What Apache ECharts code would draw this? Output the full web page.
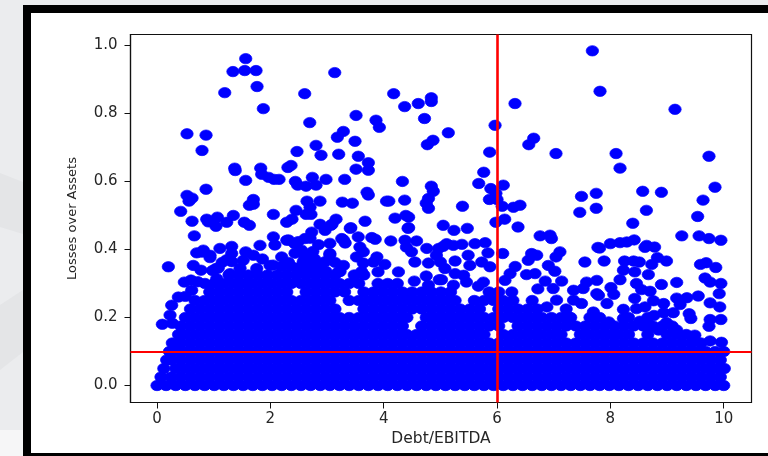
<!DOCTYPE html>
<html>
<head>
<meta charset="utf-8">
<style>html,body{margin:0;padding:0;background:#ebecee}#c{width:768px;height:456px}</style>
<script src="https://cdn.jsdelivr.net/npm/echarts@6/dist/echarts.min.js"></script>
</head>
<body>
<div id="c"></div>
<script>
const xTickValues = [0, 2, 4, 6, 8, 10];
const yTickValues = [0, 0.2, 0.4, 0.6, 0.8, 1.0];
const xAxisName = 'Debt/EBITDA';
const yAxisName = 'Losses over Assets';
const xThreshold = 6;
const yThreshold = 0.1;

// individually readable points above the dense band: [Debt/EBITDA, Losses over Assets]
const upperPointsLeft = [
[1.565,.961],[1.34,.923],[1.548,.926],[1.747,.926],[1.765,.879],[1.195,.861],[1.876,.814],[2.606,.858],[3.136,.92],[2.695,.773],
[.529,.74],[.865,.736],[.794,.691],[1.371,.639],[1.38,.632],[1.565,.603],[1.83,.639],[1.847,.621],[1.97,.612],[2.065,.606],[2.153,.606],
[2.31,.641],[2.365,.647],[2.47,.688],[2.806,.706],[2.894,.677],[3.206,.68],[3.182,.73],[3.288,.747],[3.512,.794],[3.864,.78],[3.923,.759],
[3.494,.718],[3.552,.674],[3.729,.655],[3.729,.633],[3.512,.636],[3.312,.606],[2.982,.606],[2.741,.612],[2.441,.6],[2.482,.589],[2.63,.586],
[2.806,.589],[.865,.577],[.529,.559],[.618,.551],[.565,.542],[1.7,.547],[1.7,.533],[1.63,.53],[2.647,.542],[2.876,.542],[3.27,.539],[3.447,.536],
[3.706,.568],[3.729,.56],[.418,.512],[2.453,.515],[2.7,.524],[2.63,.503],[2.717,.503],[2.053,.503],[1.347,.5],[.618,.483],[.877,.489],[1.065,.495],
[.906,.481],[1.23,.48],[1.54,.48],[1.63,.471],[2.288,.48],[2.382,.489],[2.876,.474],[3.159,.489],[3.088,.474],[3.671,.483],[3.41,.462],
[.658,.44],[.2,.349],[.64,.353],[.776,.339],[.482,.304],[.376,.26],[.259,.236],[.817,.398],[.7,.39],[.935,.383],[1.11,.403],[1.318,.409],[1.318,.388],
[1.565,.393],[1.7,.383],[1.817,.412],[2.053,.437],[1.04,.468],[1.23,.37],[1.04,.344],[1.465,.345],[1.76,.344],[1.994,.353],[.612,.28],[.847,.3],
[1.053,.314],[1.288,.329],[.094,.18],[.27,.183],[.23,.207],[.79,.392],[.935,.376],[2.08,.413],[2.32,.428],[2.49,.423],[2.7,.433],[3.05,.418],
[3.29,.428],[3.85,.43],[2.75,.394],[3.05,.384],[2.965,.364],[2.435,.389],[2.58,.364],[1.08,.345],[1.32,.364],[2.05,.354],[2.64,.33],[3.23,.335],[3.61,.335],
[1.52,.368],[1.86,.372],[2.2,.378],[2.32,.362],[2.78,.372],[3.14,.362],[1.15,.362],[.98,.338],[.72,.305],[.6,.31],[.5,.262]
];
const upperPointsMiddle = [
[4.05,.542],[7.682,.984],[7.817,.865],[9.14,.812],[6.317,.829],[4.176,.858],[4.37,.82],[4.61,.829],[4.84,.846],[4.84,.835],[4.72,.785],[5.965,.765],
[5.14,.743],[4.87,.721],[4.77,.708],[6.647,.727],[6.56,.708],[7.04,.682],[8.1,.682],[8.17,.639],[9.74,.674],[5.87,.686],[5.765,.627],[5.677,.594],
[6.11,.589],[5.89,.579],[4.84,.586],[4.875,.571],[4.33,.6],[4.09,.542],[4.37,.545],[4.79,.55],[4.75,.536],[4.79,.521],[5.39,.527],[5.865,.547],[6,.547],
[5.98,.565],[6.09,.527],[6.29,.524],[6.405,.53],[6.135,.489],[5.98,.48],[6.37,.466],[7.46,.509],[7.49,.556],[7.75,.565],[7.75,.521],[8.57,.571],[8.9,.568],
[8.635,.515],[9.635,.545],[9.846,.583],[9.54,.497],[8.395,.477],[4.2,.492],[4.39,.5],[4.44,.495],[4.43,.462],[5.05,.471],[5.24,.456],[5.475,.462],
[3.42,.464],[3.07,.471],[2.965,.456],[2.73,.451],[2.61,.432],[4.44,.464],[4.125,.425],[4.376,.427],[4.58,.425],[4.76,.403],[4.97,.403],[4.4,.407],[4.49,.393],
[4.55,.363],[4.79,.36],[5,.363],[4.93,.383],[3.79,.435],[3.55,.437],[3.26,.432],[3.32,.419],[3.58,.407],[2.85,.414],[3.05,.388],[3.64,.393],[3.52,.378],
[3.88,.378],[3.82,.363],[4.02,.356],[3.64,.36],[3.29,.353],[3.2,.334],[2.98,.336],[4.26,.334],[3.9,.334],[4.54,.307],[4.75,.322],[4.98,.311],[4.79,.295],[4.46,.265],
[2.55,.398],[2.43,.417],[2.29,.427],[2.61,.378]
];
const upperPointsRight = [
[6.76,.44],[6.935,.442],[6.96,.432],[7.78,.406],[7.55,.363],[7.11,.393],[7.04,.378],[6.61,.388],[6.55,.368],[6.7,.383],[5.11,.417],[5.05,.409],[5.38,.415],
[5.23,.412],[5.61,.417],[5.79,.42],[5.84,.39],[6.1,.388],[5.49,.383],[5.52,.353],[5.26,.366],[5.73,.363],[5.875,.349],[6.32,.35],[6.23,.329],[6.14,.309],
[6.52,.326],[6.67,.329],[6.905,.353],[7.02,.336],[6.85,.307],[7.14,.307],[6.99,.285],[7.05,.251],[6.72,.284],[5.76,.304],[5.67,.292],[5.02,.311],[5.26,.329],
[5.41,.324],[5.46,.304],[5.23,.295],[5.08,.344],[7.35,.28],[7.58,.304],[7.76,.309],[7.52,.285],[7.35,.251],[7.76,.27],[7.49,.241],[6.26,.275],[6.88,.231],[7.26,.202],[7.7,.216],
[9.26,.44],[9.565,.44],[9.74,.432],[9.95,.427],[7.81,.404],[8,.417],[8.17,.42],[8.29,.422],[8.42,.428],[8.64,.412],[8.61,.406],[8.78,.407],[7.89,.366],[8.25,.366],
[8.41,.366],[8.51,.363],[8.83,.376],[8.99,.366],[8.73,.356],[9.59,.356],[9.69,.361],[9.86,.347],[8.23,.339],[8.43,.334],[8.67,.326],[8.17,.311],[8.46,.3],[8.9,.297],
[9.17,.303],[9.67,.316],[9.76,.304],[9.95,.3],[9.92,.27],[8.01,.288],[8.55,.282],[8.7,.277],[8.06,.268],[7.79,.265],[8.43,.256],[7.94,.241],[8.76,.249],[8.94,.241],
[9.17,.257],[9.35,.258],[9.55,.263],[9.76,.243],[9.93,.231],[9.23,.238],[8.46,.226],[8.61,.231],[8.23,.224],[8.94,.214],[9.11,.214],[8.77,.206],[9.39,.211],[9.42,.197],
[9.76,.194],[9.95,.194],[9.74,.174],[8.99,.185],[8.52,.189],[7.97,.187],[8.23,.197],[8.85,.163],[9.17,.163],[9.76,.131],[9.96,.127],[9.49,.148],[8.67,.172]
];

// the dense band near the axis: estimated x values for each y level
const bandLevels = [0, .025, .05, .075, .1, .125, .15, .175, .2, .225, .25, .275, .3, .325, .35];
const bandRow0 = [0,.16,.33,.5,.67,.84,1.01,1.18,1.35,1.52,1.69,1.86,2.03,2.2,2.37,2.54,2.71,2.88,3.05,3.22,3.39,3.56,3.73,3.9,4.07,4.24,4.41,4.58,4.75,4.92,5.09,5.26,5.43,5.6,5.77,5.94,6.11,6.28,6.45,6.62,6.79,6.96,7.13,7.3,7.47,7.64,7.81,7.98,8.15,8.32,8.49,8.66,8.83,9,9.17,9.34,9.51,9.68,9.85,10];
const bandRow1 = [.07,.25,.42,.59,.76,.93,1.1,1.27,1.44,1.61,1.78,1.95,2.12,2.29,2.46,2.63,2.8,2.97,3.14,3.31,3.48,3.65,3.82,3.99,4.16,4.33,4.5,4.67,4.84,5.01,5.18,5.35,5.52,5.69,5.86,6.03,6.2,6.37,6.54,6.71,6.88,7.05,7.22,7.39,7.56,7.73,7.9,8.07,8.24,8.41,8.58,8.75,8.92,9.09,9.26,9.43,9.6,9.77,9.94];
const bandRow2 = [.12,.33,.5,.67,.84,1.01,1.18,1.35,1.52,1.69,1.86,2.03,2.2,2.37,2.54,2.71,2.88,3.05,3.22,3.39,3.56,3.73,3.9,4.07,4.24,4.41,4.58,4.75,4.92,5.09,5.26,5.43,5.6,5.77,5.94,6.11,6.28,6.45,6.62,6.79,6.96,7.13,7.3,7.47,7.64,7.81,7.98,8.15,8.32,8.49,8.66,8.83,9,9.17,9.34,9.51,9.68,9.85,10.01];
const bandRow3 = [.17,.25,.42,.59,.76,.93,1.1,1.27,1.44,1.61,1.78,1.95,2.12,2.29,2.46,2.63,2.8,2.97,3.14,3.31,3.48,3.65,3.82,3.99,4.16,4.33,4.5,4.67,4.84,5.01,5.18,5.35,5.52,5.69,5.86,6.03,6.2,6.37,6.54,6.71,6.88,7.05,7.22,7.39,7.56,7.73,7.9,8.07,8.24,8.41,8.58,8.75,8.92,9.09,9.26,9.43,9.6,9.77,9.94];
const bandRow4 = [.22,.33,.5,.67,.84,1.01,1.18,1.35,1.52,1.69,1.86,2.03,2.2,2.37,2.54,2.71,2.88,3.05,3.22,3.39,3.56,3.73,3.9,4.07,4.24,4.41,4.58,4.75,4.92,5.09,5.26,5.43,5.6,5.77,5.94,6.11,6.28,6.45,6.62,6.79,6.96,7.13,7.3,7.47,7.64,7.81,7.98,8.15,8.32,8.49,8.66,8.83,9,9.17,9.34,9.51,9.68,9.85,10];
const bandRow5 = [.27,.42,.59,.76,.93,1.1,1.27,1.44,1.61,1.78,1.95,2.12,2.29,2.46,2.63,2.8,2.97,3.14,3.31,3.48,3.65,3.82,3.99,4.16,4.33,4.5,4.67,4.84,5.01,5.18,5.35,5.52,5.69,5.86,6.03,6.2,6.37,6.54,6.71,6.88,7.05,7.22,7.39,7.56,7.73,7.9,8.07,8.24,8.41,8.58,8.75,8.92,9.09,9.26,9.43,9.6];
const bandRow6 = [.38,.5,.67,.84,1.01,1.18,1.35,1.52,1.69,1.86,2.03,2.2,2.37,2.54,2.71,2.88,3.05,3.22,3.39,3.56,3.73,3.9,4.07,4.24,4.41,4.58,4.75,4.92,5.09,5.26,5.43,5.6,5.77,6.11,6.28,6.45,6.62,6.79,6.96,7.13,7.47,7.64,7.81,7.98,8.15,8.32,8.66,9,9.17,9.34];
const bandRow7 = [.42,.59,.76,.93,1.1,1.27,1.44,1.61,1.78,1.95,2.12,2.29,2.46,2.63,2.8,2.97,3.14,3.31,3.48,3.65,3.82,3.99,4.16,4.33,4.67,4.84,5.01,5.18,5.35,5.52,5.69,5.86,6.03,6.37,6.54,6.71,6.88,7.05,7.22,7.39,7.56,7.73,7.9,8.07,8.24,8.41,8.58,8.75,8.92,9.09];
const bandRow8 = [.5,.67,.84,1.01,1.18,1.35,1.52,1.69,1.86,2.03,2.2,2.37,2.54,2.71,2.88,3.05,3.22,3.39,3.56,3.73,3.9,4.07,4.24,4.41,4.75,4.92,5.09,5.26,5.43,5.6,5.77,5.94,6.11,6.28,6.45,6.62,6.79,6.96,7.13,7.3,7.64,7.81,8.32,8.66];
const bandRow9 = [.59,.76,.93,1.1,1.27,1.44,1.61,1.78,1.95,2.12,2.29,2.46,2.63,2.8,2.97,3.14,3.65,3.82,3.99,4.16,4.33,4.5,4.67,4.84,5.01,5.18,5.35,5.52,5.69,6.03,6.2,6.37,6.54,6.71,7.22];
const bandRow10 = [.67,.84,1.01,1.18,1.35,1.52,1.69,1.86,2.03,2.2,2.37,2.54,2.71,2.88,3.05,3.39,3.56,3.73,3.9,4.07,4.24,4.41,4.58,4.75,4.92,5.09,5.26,5.6,5.77,5.94,6.11,6.28,6.62];
const bandRow11 = [.93,1.1,1.27,1.44,1.61,1.78,1.95,2.12,2.29,2.63,2.8,2.97,3.14,3.31,3.65,3.82,3.99,4.16,4.33,4.5,4.67,4.84,5.01,5.18,5.86,6.03];
const bandRow12 = [1.01,1.18,1.35,1.52,1.69,1.86,2.03,2.2,2.37,2.54,2.71,2.88,3.05,3.22,3.39,3.56,3.9,4.07,4.24];
const bandRow13 = [1.27,1.44,1.61,1.78,1.95,2.12,2.29,2.46,2.63,2.8,2.97,3.14,3.48,3.65];
const bandRow14 = [2.2,2.37,2.54,2.71,2.88];
const bandRows = [bandRow0,bandRow1,bandRow2,bandRow3,bandRow4,bandRow5,bandRow6,bandRow7,bandRow8,bandRow9,bandRow10,bandRow11,bandRow12,bandRow13,bandRow14];

const bandPoints = [];
bandRows.forEach((row, i) => row.forEach(x => bandPoints.push([x, bandLevels[i]])));
const allPoints = bandPoints.concat(upperPointsLeft, upperPointsMiddle, upperPointsRight);

const chart = echarts.init(document.getElementById('c'), null, {renderer: 'canvas'});
const labelStyle = {color: '#262626', fontFamily: 'DejaVu Sans', fontSize: 15};
chart.setOption({
  animation: false,
  backgroundColor: '#ebecee',
  graphic: {elements: [
    {type: 'polygon', silent: true, z: -20, shape: {points: [[0,173],[23,182],[23,234],[0,227]]}, style: {fill: '#e4e5e7'}},
    {type: 'polygon', silent: true, z: -20, shape: {points: [[23,290],[0,305],[0,370],[23,352]]}, style: {fill: '#e4e5e7'}},
    {type: 'rect', silent: true, z: -20, shape: {x: 0, y: 430, width: 23, height: 26}, style: {fill: '#f6f6f7'}},
    {type: 'rect', silent: true, z: -15, shape: {x: 23, y: 5, width: 745, height: 451}, style: {fill: '#000000'}},
    {type: 'rect', silent: true, z: -10, shape: {x: 31, y: 13, width: 737, height: 440}, style: {fill: '#ffffff'}}
  ]},
  grid: {left: 130.5, right: 16.5, top: 34.5, bottom: 53.5, show: true, backgroundColor: 'transparent', borderColor: '#111', borderWidth: 1.2},
  xAxis: {
    type: 'value', min: -0.468, max: 10.49, splitLine: {show: false},
    name: xAxisName, nameLocation: 'middle', nameGap: 28,
    nameTextStyle: {color: '#262626', fontFamily: 'DejaVu Sans', fontSize: 15.5},
    axisLine: {show: true, onZero: false, lineStyle: {color: '#111', width: 1.2}},
    axisTick: {show: true, length: 6, customValues: xTickValues, lineStyle: {color: '#111'}},
    axisLabel: Object.assign({show: true, margin: 9, customValues: xTickValues, formatter: v => String(v)}, labelStyle)
  },
  yAxis: {
    type: 'value', min: -0.05, max: 1.032, splitLine: {show: false},
    name: yAxisName, nameLocation: 'middle', nameGap: 51, nameRotate: 90,
    nameTextStyle: {color: '#262626', fontFamily: 'DejaVu Sans', fontSize: 13},
    axisLine: {show: true, onZero: false, lineStyle: {color: '#111', width: 1.2}},
    axisTick: {show: true, length: 6, customValues: yTickValues, lineStyle: {color: '#111'}},
    axisLabel: Object.assign({show: true, margin: 13, customValues: yTickValues, formatter: v => v.toFixed(1)}, labelStyle)
  },
  series: [{
    type: 'scatter',
    data: allPoints,
    symbol: 'circle',
    symbolSize: [12.4, 10.4],
    clip: false,
    itemStyle: {color: '#0000ff', opacity: 1, borderColor: '#0000ff', borderWidth: 0.7},
    markLine: {
      silent: true, symbol: 'none', animation: false,
      label: {show: false},
      lineStyle: {color: '#ff0000', width: 2, type: 'solid', opacity: 1},
      emphasis: {disabled: true},
      data: [{xAxis: xThreshold, lineStyle: {width: 2.6}}, {yAxis: yThreshold}]
    }
  }]
});
</script>
</body>
</html>
